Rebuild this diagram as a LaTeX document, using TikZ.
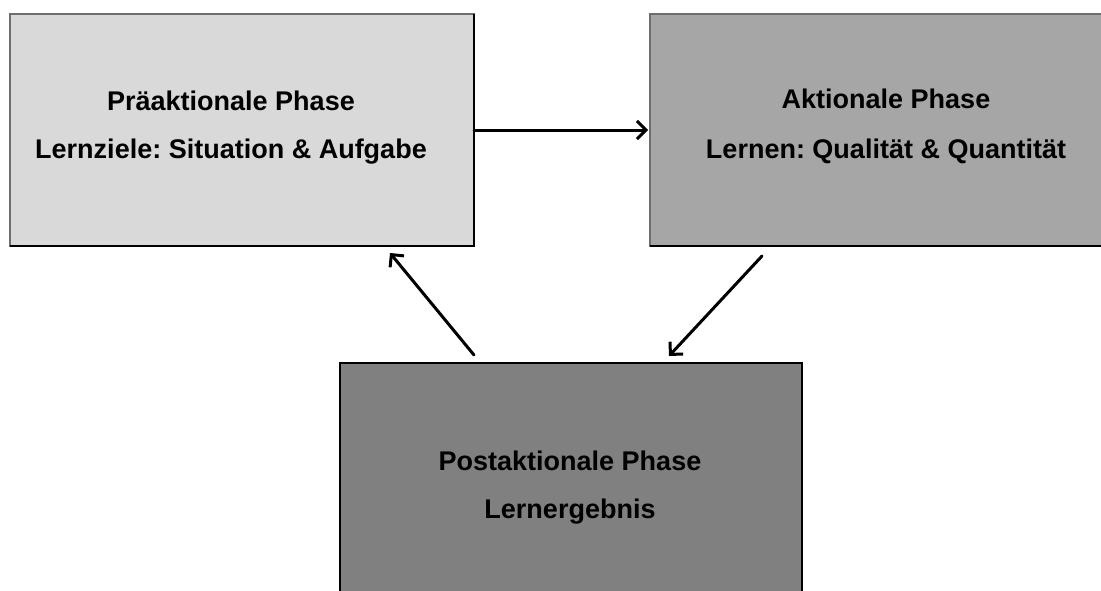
\documentclass[tikz,border=0pt]{standalone}
\usepackage{fontspec}
\setmainfont{Liberation Sans}
\frenchspacing
\usetikzlibrary{arrows.meta}
\definecolor{fillA}{HTML}{D9D9D9}
\definecolor{fillB}{HTML}{A6A6A6}
\definecolor{fillC}{HTML}{808080}
\definecolor{edgeL}{HTML}{6E6E6E}
\tikzset{
  phasebox/.style={draw=edgeL, line width=1.5pt, rectangle, inner sep=0pt, outer sep=0pt},
  lbl/.style={font=\fontsize{27}{30}\selectfont\bfseries, inner sep=0pt, anchor=base},
  arr/.style={line width=3pt, -{Straight Barb[length=9pt,width=18pt]}, line cap=round},
}
\begin{document}
\begin{tikzpicture}[x=1pt,y=1pt]
\useasboundingbox (0,0) rectangle (1101,-590);
\clip (0,0) rectangle (1101,-590);
% boxes
\node[phasebox, fill=fillA, minimum width=464pt, minimum height=232pt] (A) at (242,-130) {};
\node[phasebox, fill=fillB, minimum width=470pt, minimum height=232pt] (B) at (885,-130) {};
\node[phasebox, draw=black, fill=fillC, minimum width=462pt, minimum height=260pt] (C) at (571,-493) {};
% darker bottom/right edges
\draw[line width=1.5pt] (A.south west) -- (A.south east) -- (A.north east);
\draw[line width=1.5pt] (B.south west) -- (B.south east);
% texts
\node[lbl] (a1) at (231,-110) {Präaktionale Phase};
\node[lbl] (a2) at (231,-158) {Lernziele: Situation \& Aufgabe};
\node[lbl] (b1) at (886,-108) {Aktionale Phase};
\node[lbl] (b2) at (886,-158) {Lernen: Qualität \& Quantität};
\node[lbl] (c1) at (570,-470) {Postaktionale Phase};
\node[lbl] (c2) at (570,-518) {Lernergebnis};
% arrows
\draw[arr] (A.east) -- ([xshift=-2pt]B.west);
\draw[arr] ([shift={(112,-10)}]B.south west) -- ([shift={(329,7)}]C.north west);
\draw[arr] ([shift={(134,8)}]C.north west) -- ([shift={(380,-7)}]A.south west);
\end{tikzpicture}
\end{document}
